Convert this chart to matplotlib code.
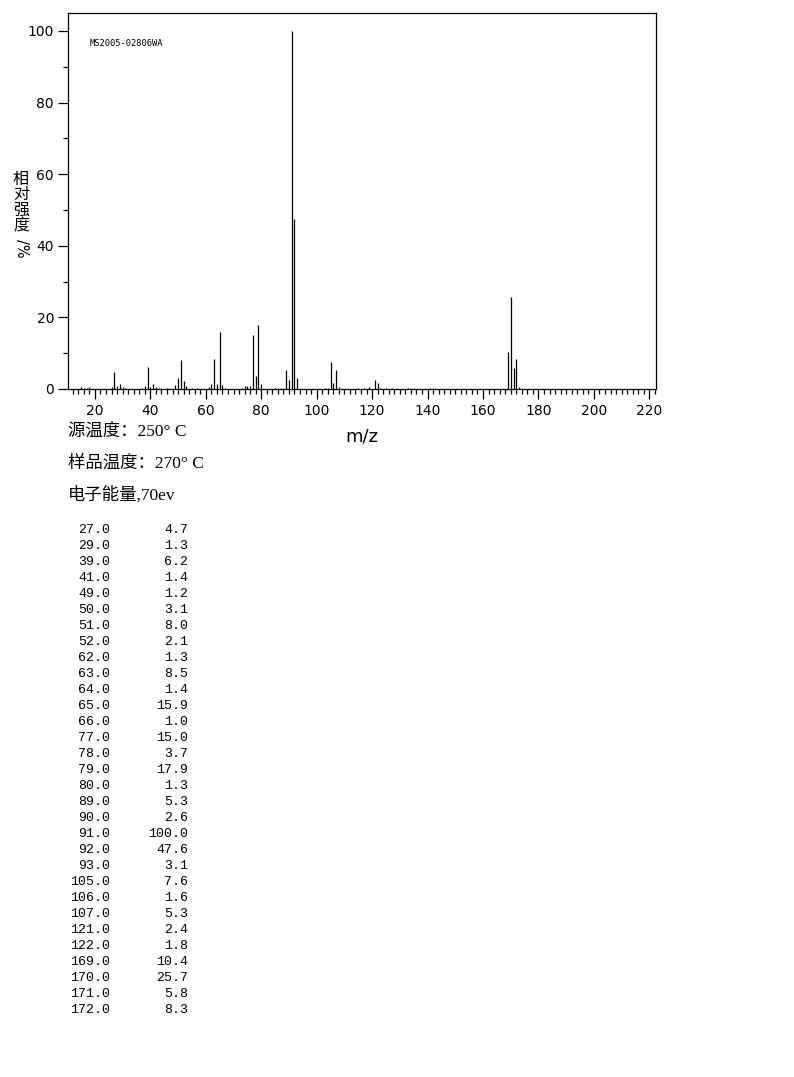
import numpy as np
import matplotlib
matplotlib.use("Agg")
import matplotlib.pyplot as plt
from matplotlib.ticker import MultipleLocator

# listed peaks (m/z, relative intensity)
mz_list = [27, 29, 39, 41, 49, 50, 51, 52, 62, 63, 64, 65, 66, 77, 78, 79, 80,
           89, 90, 91, 92, 93, 105, 106, 107, 121, 122, 169, 170, 171, 172]
int_list = [4.7, 1.3, 6.2, 1.4, 1.2, 3.1, 8.0, 2.1, 1.3, 8.5, 1.4, 15.9, 1.0,
            15.0, 3.7, 17.9, 1.3, 5.3, 2.6, 100.0, 47.6, 3.1, 7.6, 1.6, 5.3,
            2.4, 1.8, 10.4, 25.7, 5.8, 8.3]

# small unlisted peaks
mz_small = [15, 16, 17, 18, 26, 28, 30, 31, 37, 38, 40, 42, 43, 44, 46, 48, 53,
            55, 57, 61, 67, 73, 74, 75, 76, 85, 86, 87, 88, 94, 103, 104, 108,
            115, 117, 119, 123, 125, 126, 127, 133, 134, 141, 142, 173, 174]
int_small = [0.6, 0.4, 0.4, 0.5, 0.6, 0.8, 0.5, 0.3, 0.4, 0.8, 0.5, 0.5, 0.3,
             0.3, 0.3, 0.3, 0.8, 0.3, 0.3, 0.5, 0.3, 0.3, 0.8, 0.8, 0.8, 0.3,
             0.3, 0.3, 0.3, 0.3, 0.4, 0.4, 0.6, 0.4, 0.3, 0.5, 0.3, 0.3, 0.4,
             0.3, 0.3, 0.3, 0.3, 0.2, 0.6, 0.2]

conditions = ["源温度：250° C", "样品温度：270° C", "电子能量,70ev"]
sample_id = "MS2005-02806WA"

W, H = 794, 1077
fig = plt.figure(figsize=(W / 100, H / 100), dpi=100)
fig.patch.set_facecolor("white")

ax = fig.add_axes([68 / W, 1 - 389 / H, (656 - 68) / W, (389 - 13) / H])
ax.vlines(mz_list + mz_small, 0, int_list + int_small, colors="black", linewidth=0.9)
ax.set_xlim(10.3, 222.4)
ax.set_ylim(0, 105)

for s in ax.spines.values():
    s.set_linewidth(0.9)

ax.xaxis.set_major_locator(MultipleLocator(20))
ax.xaxis.set_minor_locator(MultipleLocator(2))
ax.yaxis.set_major_locator(MultipleLocator(20))
ax.yaxis.set_minor_locator(MultipleLocator(10))
ax.tick_params(which="major", direction="out", length=7, width=0.9, labelsize=10, pad=3)
ax.tick_params(which="minor", direction="out", length=3.6, width=0.9)
ax.tick_params(axis="x", which="major", pad=4)

fig.text(90 / W, 1 - 43 / H, sample_id, fontsize=6.3,
         family="DejaVu Sans Mono", va="center", ha="left")

fig.text(362 / W, 1 - 437 / H, "m/z", fontsize=13, ha="center", va="center")

# stacked y label
cjk = ["Noto Sans CJK SC", "DejaVu Sans"]
for i, ch in enumerate("相对强度"):
    fig.text(21 / W, 1 - (179 + 15.7 * i) / H, ch, fontsize=11.5, family=cjk,
             ha="center", va="center")
fig.text(21 / W, 1 - 248 / H, "/%", fontsize=10.5, rotation=270, ha="center", va="center")

serif_cjk = ["Liberation Serif", "Noto Sans CJK SC"]
for i, t in enumerate(conditions):
    fig.text(68 / W, 1 - (433 + 31 * i) / H, t, fontsize=12.5, family=serif_cjk,
             ha="left", va="center")

# peak table
for i, (m, v) in enumerate(zip(mz_list, int_list)):
    y = 1 - (530 + 16 * i) / H
    fig.text(110 / W, y, f"{m:.1f}", fontsize=9.5, family="Liberation Mono",
             ha="right", va="center")
    fig.text(188 / W, y, f"{v:.1f}", fontsize=9.5, family="Liberation Mono",
             ha="right", va="center")

fig.savefig("out.png", dpi=100)
